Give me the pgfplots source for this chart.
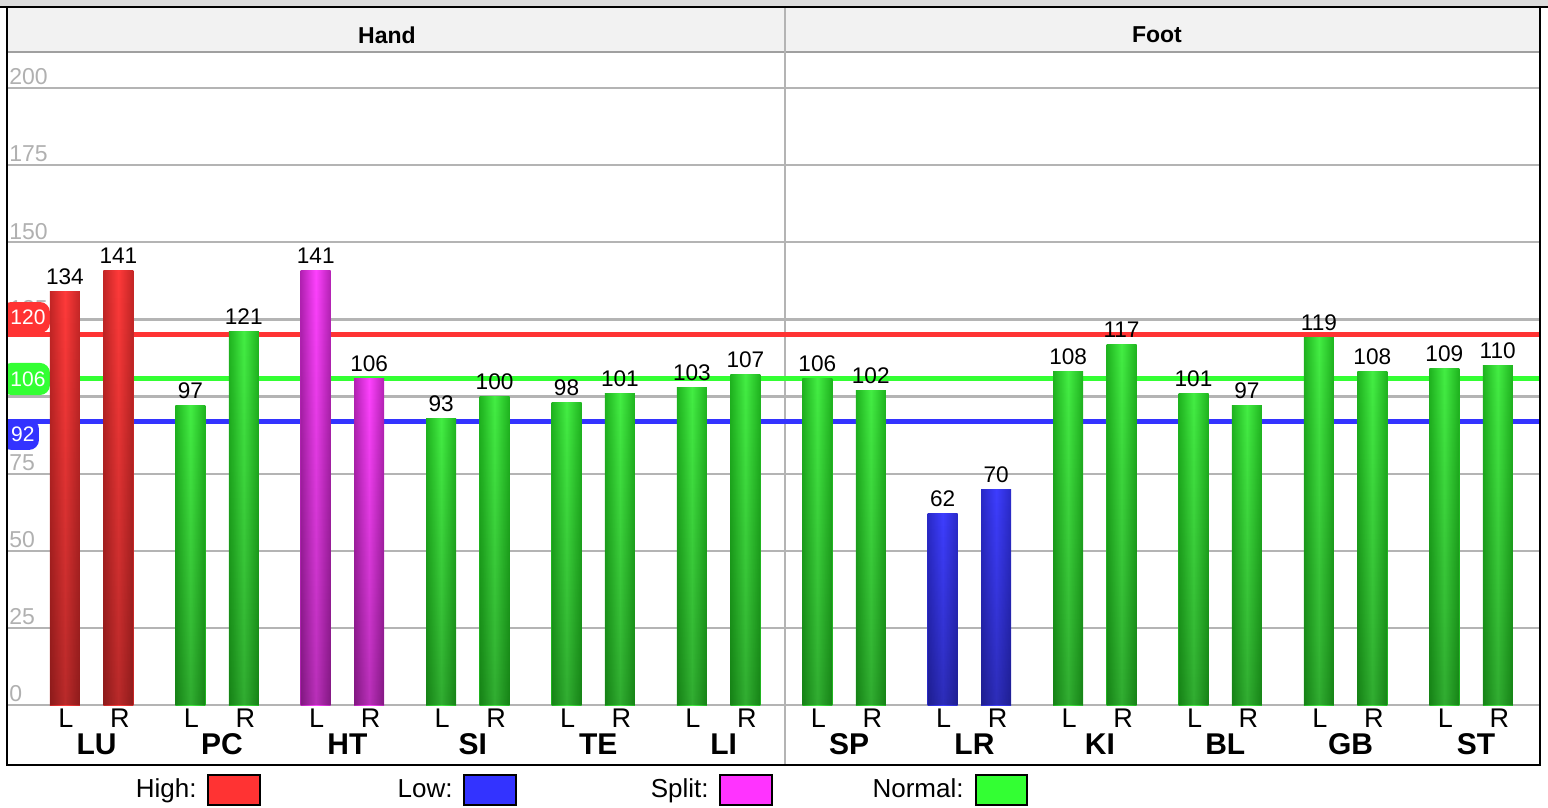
\documentclass[border=0pt]{standalone}
\usepackage{fontspec}
\setmainfont{Liberation Sans}
\usepackage{pgfplots}
\pgfplotsset{compat=1.18}
\usetikzlibrary{fadings}
\definecolor{hiC}{HTML}{FF3333}
\definecolor{loC}{HTML}{3333FF}
\definecolor{spC}{HTML}{FF33FF}
\definecolor{noC}{HTML}{33FF33}
\definecolor{gridC}{HTML}{B4B4B4}
\definecolor{tickC}{HTML}{B0B0B0}
\definecolor{headC}{HTML}{F2F2F2}
\definecolor{bandC}{HTML}{DCDCDC}
\definecolor{hdrline}{HTML}{A0A0A0}
\definecolor{redE}{HTML}{C42626}
\definecolor{redM}{HTML}{FF3A3A}
\definecolor{grnE}{HTML}{1FB41F}
\definecolor{grnM}{HTML}{44EE44}
\definecolor{magE}{HTML}{B422B4}
\definecolor{magM}{HTML}{FF42FF}
\definecolor{bluE}{HTML}{2A2AC8}
\definecolor{bluM}{HTML}{3E3EFF}
\pgfplotsset{
  mybar/.style={ybar, bar width=0.2392, bar shift=0pt, draw=none,
    nodes near coords,
    every node near coord/.append style={font=\fontsize{11.3}{13}\selectfont, text=black, inner sep=0pt, anchor=south, yshift=3.2pt}},
  shadebar/.style={ybar, bar width=0.2392, bar shift=0pt, draw=none, fill=black, fill opacity=0.28, path fading=north},
}
% one bar: x, value, edge colour, middle colour
\newcommand{\onebar}[4]{%
  \addplot[mybar, left color=#3, right color=#3, middle color=#4] coordinates {(#1,#2)};
  \addplot[shadebar] coordinates {(#1,#2)};
}
\begin{document}
\begin{tikzpicture}
\begin{axis}[
  at={(0,0)}, anchor=south west,
  scale only axis, width=766.5pt, height=379pt,
  xmin=-0.675, xmax=11.55, ymin=-19.45, ymax=226.3,
  axis line style={black, line width=1pt},
  ytick={0,25,...,200}, yticklabels={}, xtick=\empty,
  ymajorgrids, grid style={color=gridC, line width=1.1pt},
  major tick length=0pt,
  clip=false,
  /pgf/number format/assume math mode=true,
]
% header band
\fill[headC] (axis cs:-0.675,211.7) rectangle (axis cs:11.55,226.3);
\draw[hdrline, line width=1.1pt] (axis cs:-0.675,211.7) -- (axis cs:11.55,211.7);
\draw[gridC, line width=1.1pt] (axis cs:5.53,-19.45) -- (axis cs:5.53,226.3);
\node[font=\bfseries\fontsize{11.5}{13}\selectfont] at (axis cs:2.355,217.2) {Hand};
\node[font=\bfseries\fontsize{11.5}{13}\selectfont] at (axis cs:8.495,217.2) {Foot};
% y tick labels
\pgfplotsinvokeforeach{0,25,50,75,100,125,150,175,200}{
  \node[anchor=south west, inner sep=0pt, text=tickC, font=\fontsize{11.5}{13}\selectfont]
    at ([xshift=1pt,yshift=1.3pt]axis cs:-0.675,#1) {#1};
}
% reference lines
\addplot[hiC, line width=2.5pt] coordinates {(-0.675,120) (11.55,120)};
\addplot[noC, line width=2.5pt] coordinates {(-0.675,106) (11.55,106)};
\addplot[loC, line width=2.5pt] coordinates {(-0.675,92) (11.55,92)};
% pills
\fill[hiC, rounded corners=5pt] (axis cs:-0.72,120.6) rectangle (axis cs:-0.3325,130.65);
\node[text=white, font=\fontsize{10.5}{12}\selectfont] at (axis cs:-0.508,125.6) {120};
\fill[noC, rounded corners=5pt] (axis cs:-0.72,100.5) rectangle (axis cs:-0.3325,110.9);
\node[text=white, font=\fontsize{10.5}{12}\selectfont] at (axis cs:-0.508,105.7) {106};
\fill[loC, rounded corners=5pt] (axis cs:-0.72,82.7) rectangle (axis cs:-0.420,92.7);
\node[text=white, font=\fontsize{10.5}{12}\selectfont] at (axis cs:-0.548,87.7) {92};
% bars
\onebar{-0.213}{134}{redE}{redM}
\onebar{0.213}{141}{redE}{redM}
\onebar{0.787}{97}{grnE}{grnM}
\onebar{1.213}{121}{grnE}{grnM}
\onebar{1.787}{141}{magE}{magM}
\onebar{2.213}{106}{magE}{magM}
\onebar{2.787}{93}{grnE}{grnM}
\onebar{3.213}{100}{grnE}{grnM}
\onebar{3.787}{98}{grnE}{grnM}
\onebar{4.213}{101}{grnE}{grnM}
\onebar{4.787}{103}{grnE}{grnM}
\onebar{5.213}{107}{grnE}{grnM}
\onebar{5.787}{106}{grnE}{grnM}
\onebar{6.213}{102}{grnE}{grnM}
\onebar{6.787}{62}{bluE}{bluM}
\onebar{7.213}{70}{bluE}{bluM}
\onebar{7.787}{108}{grnE}{grnM}
\onebar{8.213}{117}{grnE}{grnM}
\onebar{8.787}{101}{grnE}{grnM}
\onebar{9.213}{97}{grnE}{grnM}
\onebar{9.787}{119}{grnE}{grnM}
\onebar{10.213}{108}{grnE}{grnM}
\onebar{10.787}{109}{grnE}{grnM}
\onebar{11.213}{110}{grnE}{grnM}
% L / R labels
\pgfplotsinvokeforeach{0,1,2,3,4,5,6,7,8,9,10,11}{
  \node[font=\fontsize{13.5}{15}\selectfont, inner sep=0pt] at (axis cs:#1-0.205,-4.2) {L};
  \node[font=\fontsize{13.5}{15}\selectfont, inner sep=0pt] at (axis cs:#1+0.225,-4.2) {R};
}
% group names
\tikzset{gname/.style={font=\bfseries\fontsize{15}{17}\selectfont, inner sep=0pt}}
\node[gname] at (axis cs:0.04,-12.64) {LU};
\node[gname] at (axis cs:1.04,-12.64) {PC};
\node[gname] at (axis cs:2.04,-12.64) {HT};
\node[gname] at (axis cs:3.04,-12.64) {SI};
\node[gname] at (axis cs:4.04,-12.64) {TE};
\node[gname] at (axis cs:5.04,-12.64) {LI};
\node[gname] at (axis cs:6.04,-12.64) {SP};
\node[gname] at (axis cs:7.04,-12.64) {LR};
\node[gname] at (axis cs:8.04,-12.64) {KI};
\node[gname] at (axis cs:9.04,-12.64) {BL};
\node[gname] at (axis cs:10.04,-12.64) {GB};
\node[gname] at (axis cs:11.04,-12.64) {ST};
\end{axis}
% left margin cover, frame and top band
\fill[white] (-3.5pt,-21.5pt) rectangle (-0.5pt,379pt);
\draw[black, line width=1pt] (0,0) rectangle (766.5pt,379pt);
\draw[black, line width=1.4pt] (-3.5pt,379pt) -- (770.5pt,379pt);
\fill[bandC] (-3.5pt,379.7pt) rectangle (770.5pt,382.5pt);
% legend
\tikzset{ltext/.style={font=\fontsize{13}{15}\selectfont, anchor=base east, inner sep=0pt}}
\node[ltext] at (95pt,-16.5pt) {High:};
\filldraw[fill=hiC, draw=black, line width=1pt] (100.5pt,-5pt) rectangle (126.5pt,-20pt);
\node[ltext] at (223pt,-16.5pt) {Low:};
\filldraw[fill=loC, draw=black, line width=1pt] (228.5pt,-5pt) rectangle (254.5pt,-20pt);
\node[ltext] at (351pt,-16.5pt) {Split:};
\filldraw[fill=spC, draw=black, line width=1pt] (356.5pt,-5pt) rectangle (382.5pt,-20pt);
\node[ltext] at (478.5pt,-16.5pt) {Normal:};
\filldraw[fill=noC, draw=black, line width=1pt] (484.5pt,-5pt) rectangle (510pt,-20pt);
\pgfresetboundingbox
\path (-3.5pt,-21.5pt) rectangle (770.5pt,382.5pt);
\end{tikzpicture}
\end{document}
